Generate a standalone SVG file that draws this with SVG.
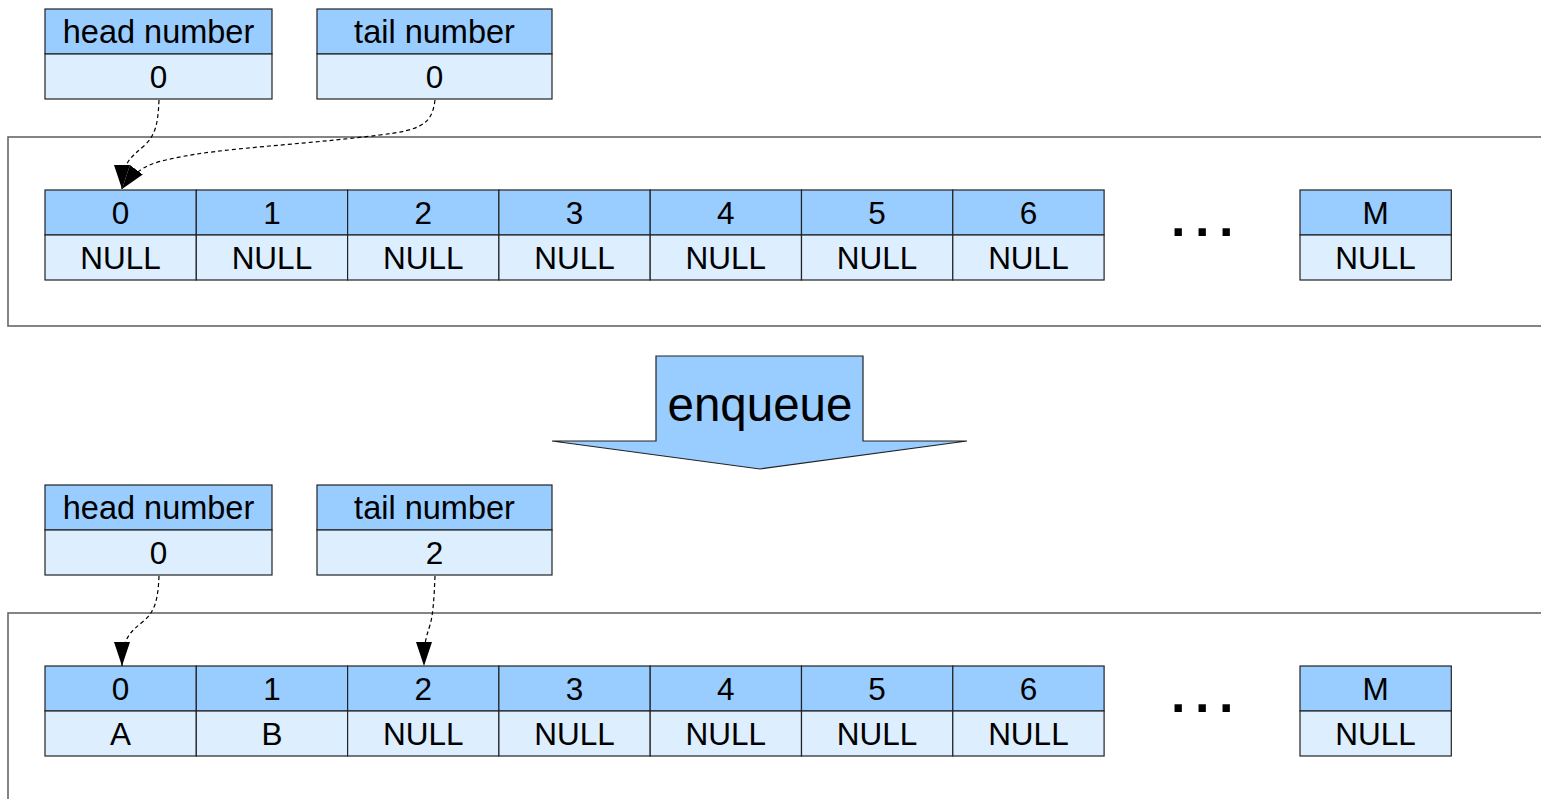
<svg xmlns="http://www.w3.org/2000/svg" width="1541" height="799" viewBox="0 0 1541 799">
  <style>
    text { font-family: "Liberation Sans", Arial, sans-serif; fill: #000; }
    .hd { fill: #99ccff; stroke: #222; stroke-width: 1.2; }
    .vl { fill: #ddeeff; stroke: #222; stroke-width: 1.2; }
    .t { font-size: 31.5px; text-anchor: middle; }
    .lbl { font-size: 32.5px; text-anchor: middle; }
    .frame { fill: none; stroke: #666; stroke-width: 1.6; }
    .link { fill: none; stroke: #000; stroke-width: 1.2; stroke-dasharray: 4 3; marker-end: url(#tip); }
    .dots { font-size: 52px; font-weight: bold; letter-spacing: 9.5px; }
  </style>
  <defs>
    <marker id="tip" markerUnits="userSpaceOnUse" markerWidth="24" markerHeight="16" viewBox="0 0 24 16" refX="24" refY="8" orient="auto">
      <path d="M0,0 L24,8 L0,16 z" fill="#000"/>
    </marker>
  </defs>

  <rect fill="#fff" x="0" y="0" width="1541" height="799"/>

  <!-- ===== state before enqueue ===== -->
  <rect class="frame" x="8" y="137" width="1545" height="189"/>

  <g id="head1">
    <rect class="hd" x="45" y="9" width="227" height="45"/>
    <rect class="vl" x="45" y="54" width="227" height="45"/>
    <text class="lbl" x="158.5" y="43">head number</text>
    <text class="t" x="158.5" y="88">0</text>
  </g>
  <g id="tail1">
    <rect class="hd" x="317" y="9" width="235" height="45"/>
    <rect class="vl" x="317" y="54" width="235" height="45"/>
    <text class="lbl" x="434.5" y="43">tail number</text>
    <text class="t" x="434.5" y="88">0</text>
  </g>

  <g id="array1">
    <g id="a1c0"><rect class="hd" x="45" y="190" width="151.3" height="45"/><rect class="vl" x="45" y="235" width="151.3" height="45"/><text class="t" x="120.6" y="224">0</text><text class="t" x="120.6" y="269">NULL</text></g>
    <g id="a1c1"><rect class="hd" x="196.3" y="190" width="151.3" height="45"/><rect class="vl" x="196.3" y="235" width="151.3" height="45"/><text class="t" x="271.9" y="224">1</text><text class="t" x="271.9" y="269">NULL</text></g>
    <g id="a1c2"><rect class="hd" x="347.6" y="190" width="151.3" height="45"/><rect class="vl" x="347.6" y="235" width="151.3" height="45"/><text class="t" x="423.2" y="224">2</text><text class="t" x="423.2" y="269">NULL</text></g>
    <g id="a1c3"><rect class="hd" x="498.9" y="190" width="151.3" height="45"/><rect class="vl" x="498.9" y="235" width="151.3" height="45"/><text class="t" x="574.5" y="224">3</text><text class="t" x="574.5" y="269">NULL</text></g>
    <g id="a1c4"><rect class="hd" x="650.2" y="190" width="151.3" height="45"/><rect class="vl" x="650.2" y="235" width="151.3" height="45"/><text class="t" x="725.8" y="224">4</text><text class="t" x="725.8" y="269">NULL</text></g>
    <g id="a1c5"><rect class="hd" x="801.5" y="190" width="151.3" height="45"/><rect class="vl" x="801.5" y="235" width="151.3" height="45"/><text class="t" x="877.1" y="224">5</text><text class="t" x="877.1" y="269">NULL</text></g>
    <g id="a1c6"><rect class="hd" x="952.8" y="190" width="151.3" height="45"/><rect class="vl" x="952.8" y="235" width="151.3" height="45"/><text class="t" x="1028.4" y="224">6</text><text class="t" x="1028.4" y="269">NULL</text></g>
    <text class="dots" x="1171" y="236">...</text>
    <g id="a1cM"><rect class="hd" x="1300" y="190" width="151.3" height="45"/><rect class="vl" x="1300" y="235" width="151.3" height="45"/><text class="t" x="1375.6" y="224">M</text><text class="t" x="1375.6" y="269">NULL</text></g>
  </g>

  <!-- ===== transition ===== -->
  <g id="enqueue">
    <polygon points="656,356 863,356 863,441 967,441 760,469 552,441 656,441" fill="#99ccff" stroke="#222" stroke-width="1.2"/>
    <text x="760" y="421" font-size="47.5" text-anchor="middle">enqueue</text>
  </g>

  <!-- ===== state after enqueue ===== -->
  <rect class="frame" x="8" y="613" width="1545" height="200"/>

  <g id="head2">
    <rect class="hd" x="45" y="485" width="227" height="45"/>
    <rect class="vl" x="45" y="530" width="227" height="45"/>
    <text class="lbl" x="158.5" y="519">head number</text>
    <text class="t" x="158.5" y="564">0</text>
  </g>
  <g id="tail2">
    <rect class="hd" x="317" y="485" width="235" height="45"/>
    <rect class="vl" x="317" y="530" width="235" height="45"/>
    <text class="lbl" x="434.5" y="519">tail number</text>
    <text class="t" x="434.5" y="564">2</text>
  </g>

  <g id="array2">
    <g id="a2c0"><rect class="hd" x="45" y="666" width="151.3" height="45"/><rect class="vl" x="45" y="711" width="151.3" height="45"/><text class="t" x="120.6" y="700">0</text><text class="t" x="120.6" y="745">A</text></g>
    <g id="a2c1"><rect class="hd" x="196.3" y="666" width="151.3" height="45"/><rect class="vl" x="196.3" y="711" width="151.3" height="45"/><text class="t" x="271.9" y="700">1</text><text class="t" x="271.9" y="745">B</text></g>
    <g id="a2c2"><rect class="hd" x="347.6" y="666" width="151.3" height="45"/><rect class="vl" x="347.6" y="711" width="151.3" height="45"/><text class="t" x="423.2" y="700">2</text><text class="t" x="423.2" y="745">NULL</text></g>
    <g id="a2c3"><rect class="hd" x="498.9" y="666" width="151.3" height="45"/><rect class="vl" x="498.9" y="711" width="151.3" height="45"/><text class="t" x="574.5" y="700">3</text><text class="t" x="574.5" y="745">NULL</text></g>
    <g id="a2c4"><rect class="hd" x="650.2" y="666" width="151.3" height="45"/><rect class="vl" x="650.2" y="711" width="151.3" height="45"/><text class="t" x="725.8" y="700">4</text><text class="t" x="725.8" y="745">NULL</text></g>
    <g id="a2c5"><rect class="hd" x="801.5" y="666" width="151.3" height="45"/><rect class="vl" x="801.5" y="711" width="151.3" height="45"/><text class="t" x="877.1" y="700">5</text><text class="t" x="877.1" y="745">NULL</text></g>
    <g id="a2c6"><rect class="hd" x="952.8" y="666" width="151.3" height="45"/><rect class="vl" x="952.8" y="711" width="151.3" height="45"/><text class="t" x="1028.4" y="700">6</text><text class="t" x="1028.4" y="745">NULL</text></g>
    <text class="dots" x="1171" y="712">...</text>
    <g id="a2cM"><rect class="hd" x="1300" y="666" width="151.3" height="45"/><rect class="vl" x="1300" y="711" width="151.3" height="45"/><text class="t" x="1375.6" y="700">M</text><text class="t" x="1375.6" y="745">NULL</text></g>
  </g>

  <!-- pointers from the counters to their slots -->
  <g id="connectors">
    <path class="link" d="M159,100 C158,125 155,135 145,145 C130,158 122,163 122,189"/>
    <path class="link" d="M435,100 C432,125 420,130 380,135 C300,145 220,148 175,158 C152,163 140,165 122,189"/>
    <path class="link" d="M159,576 C158,600 155,610 145,620 C130,632 122,638 122,666"/>
    <path class="link" d="M435,576 C434,600 433,615 430,625 C426,638 424,642 424,666"/>
  </g>
</svg>
